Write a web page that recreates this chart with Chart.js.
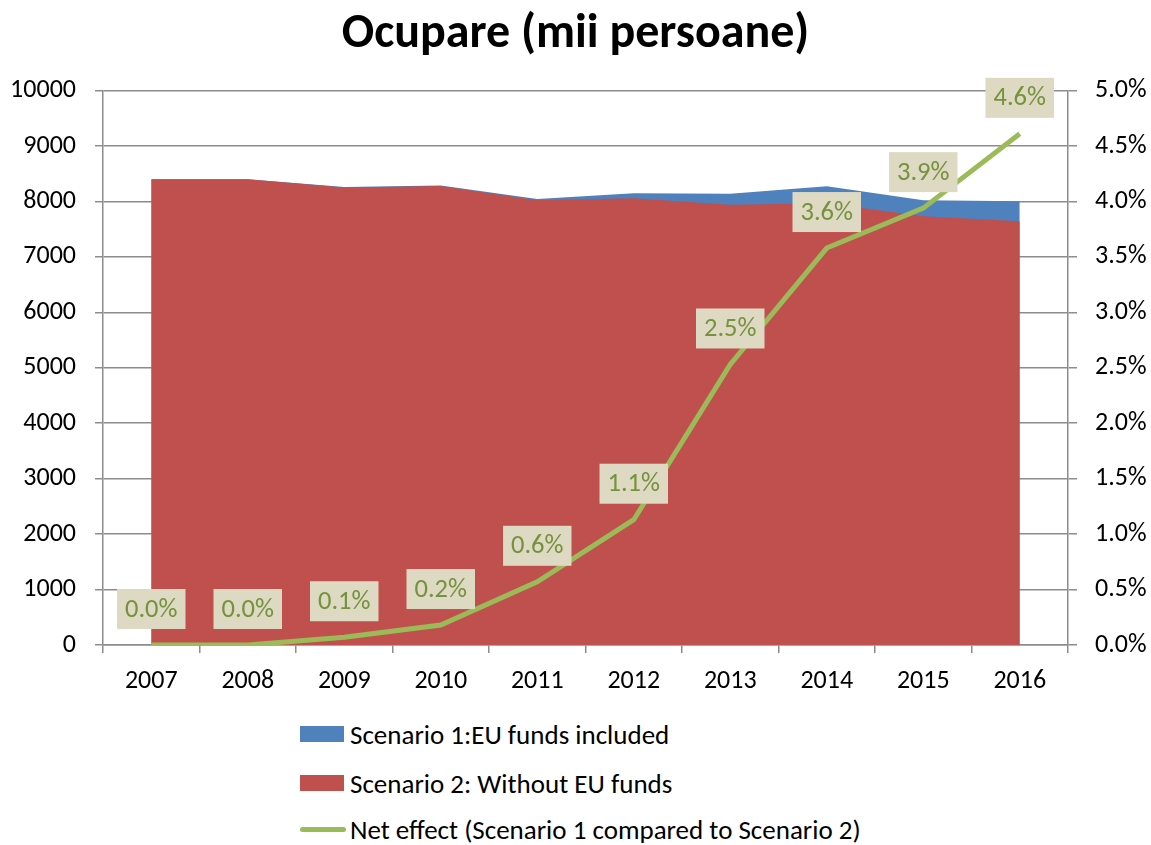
<!DOCTYPE html>
<html>
<head>
<meta charset="utf-8">
<script src="https://cdn.jsdelivr.net/npm/chart.js@4/dist/chart.umd.min.js"></script>
<style>
  body { margin: 0; background: #fff; font-family: Carlito, Lato, sans-serif; }
  #wrap { position: relative; width: 1151px; height: 845px; }
  #myChart { position: absolute; left: 0; top: 0; }
  .legend { position: absolute; left: 300px; font-size: 27px; color: #000; }
  .item { position: absolute; left: 0; white-space: nowrap; display: flex; align-items: center; height: 30px; }
  .sw { width: 44px; height: 16px; margin-right: 6px; }
  .ln { width: 46px; height: 5px; border-radius: 3px; margin-right: 4px; }
</style>
</head>
<body>
<div id="wrap">
  <canvas id="myChart" width="1151" height="710"></canvas>
  <div class="legend">
    <div class="item" style="top:719px"><div class="sw" style="background:#4F81BD"></div>Scenario 1:EU funds included</div>
    <div class="item" style="top:768px"><div class="sw" style="background:#C0504D"></div>Scenario 2: Without EU funds</div>
    <div class="item" style="top:814px"><div class="ln" style="background:#9BBB59"></div>Net effect (Scenario 1 compared to Scenario 2)</div>
  </div>
</div>
<script>
const years = ["2007", "2008", "2009", "2010", "2011", "2012", "2013", "2014", "2015", "2016"];
const scenario1 = [8400, 8400, 8260, 8290, 8045, 8150, 8140, 8275, 8020, 8005];
const scenario2 = [8400, 8400, 8250, 8280, 8020, 8060, 7940, 7970, 7735, 7645];
const netEffect = [0, 0, 0.07, 0.18, 0.57, 1.13, 2.53, 3.58, 3.94, 4.61];

const gridGray = "#8c8c8c";
const fontFam = "Carlito, Lato, sans-serif";

// boxes with the percent values over the green line
const boxLabels = {
  id: "boxLabels",
  afterDatasetsDraw(chart) {
    let ctx = chart.ctx;
    let meta = chart.getDatasetMeta(2);
    ctx.save();
    ctx.font = "26.5px " + fontFam;
    ctx.textAlign = "center";
    ctx.textBaseline = "middle";
    meta.data.forEach((pt, i) => {
      let txt = netEffect[i].toFixed(1) + "%";
      let w = ctx.measureText(txt).width + 16;
      let h = 40;
      let cx = pt.x;
      let cy = pt.y - 36;
      ctx.fillStyle = "#DDD9C3";
      ctx.fillRect(cx - w / 2, cy - h / 2, w, h);
      ctx.fillStyle = "#76923C";
      ctx.fillText(txt, cx, cy + 1);
    });
    ctx.restore();
  },
};

let ctx = document.getElementById("myChart").getContext("2d");
let myChart = new Chart(ctx, {
  data: {
    labels: years,
    datasets: [
      {
        type: "line",
        label: "Scenario 1:EU funds included",
        data: scenario1,
        borderWidth: 0,
        borderColor: "#4F81BD",
        backgroundColor: "#4F81BD",
        fill: "origin",
        pointRadius: 0,
        tension: 0,
        order: 2,
        yAxisID: "y",
      },
      {
        type: "line",
        label: "Scenario 2: Without EU funds",
        data: scenario2,
        borderWidth: 0,
        borderColor: "#C0504D",
        backgroundColor: "#C0504D",
        fill: "origin",
        pointRadius: 0,
        tension: 0,
        order: 1,
        yAxisID: "y",
      },
      {
        type: "line",
        label: "Net effect (Scenario 1 compared to Scenario 2)",
        data: netEffect,
        borderWidth: 5,
        borderColor: "#9BBB59",
        backgroundColor: "#9BBB59",
        fill: false,
        pointRadius: 0,
        tension: 0,
        order: 0,
        yAxisID: "y1",
      },
    ],
  },
  options: {
    responsive: false,
    animation: false,
    layout: { padding: 0 },
    plugins: {
      legend: { display: false },
      tooltip: { enabled: false },
      title: {
        display: true,
        text: "Ocupare (mii persoane)",
        color: "#000",
        font: { family: fontFam, size: 48, weight: "bold", lineHeight: 1.2 },
        padding: { top: 6, bottom: 27 },
      },
    },
    scales: {
      x: {
        offset: true,
        grid: {
          offset: true,
          drawOnChartArea: false,
          drawTicks: true,
          tickLength: 8,
          color: gridGray,
          lineWidth: 1.5,
        },
        border: { display: true, color: gridGray, width: 1.5 },
        ticks: { color: "#000", font: { family: fontFam, size: 26 }, padding: 13 },
        afterFit(scale) { scale.height = 65; },
      },
      y: {
        position: "left",
        min: 0,
        max: 10000,
        ticks: {
          stepSize: 1000,
          color: "#000",
          font: { family: fontFam, size: 26 },
          padding: 19,
          callback: (v) => String(v),
        },
        grid: { color: gridGray, lineWidth: 1.5, tickLength: 8 },
        border: { display: true, color: gridGray, width: 1.5 },
        afterFit(scale) { scale.width = 103; },
      },
      y1: {
        position: "right",
        min: 0,
        max: 5,
        ticks: {
          stepSize: 0.5,
          color: "#000",
          font: { family: fontFam, size: 26 },
          padding: 18,
          callback: (v) => v.toFixed(1) + "%",
        },
        grid: { drawOnChartArea: false, color: gridGray, lineWidth: 1.5, tickLength: 9 },
        border: { display: true, color: gridGray, width: 1.5 },
        afterFit(scale) { scale.width = 83; },
      },
    },
  },
  plugins: [boxLabels],
});
</script>
</body>
</html>
